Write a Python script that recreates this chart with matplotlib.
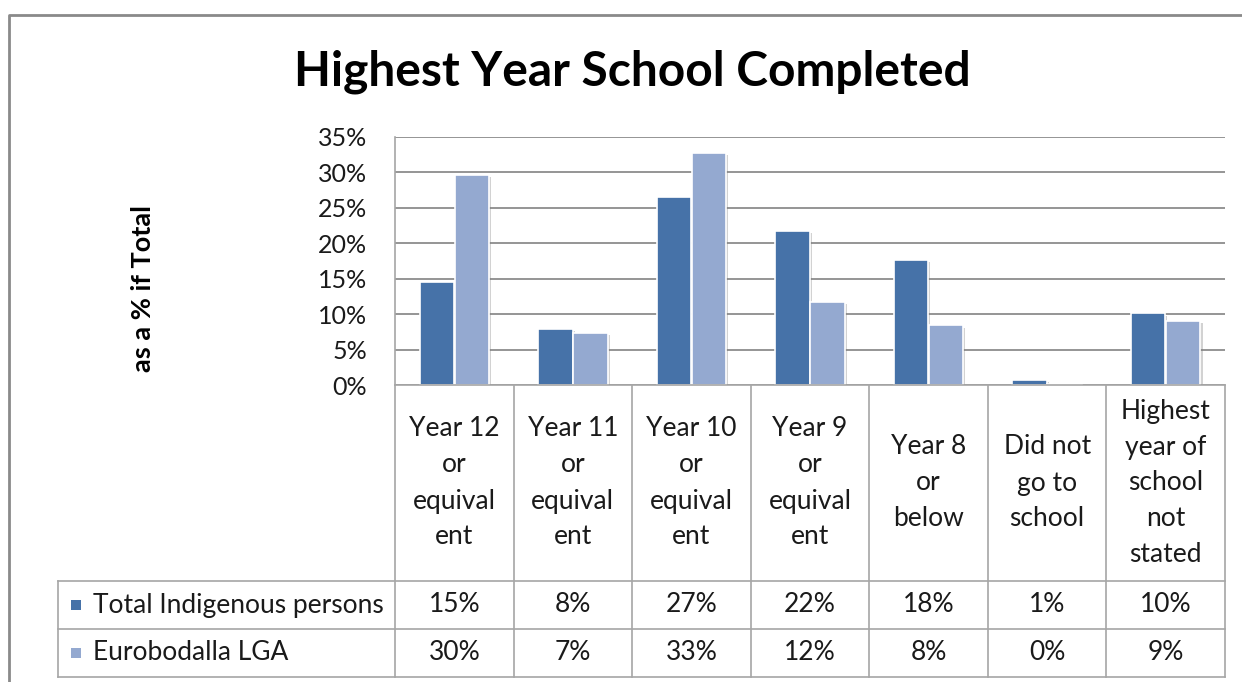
import matplotlib
matplotlib.use("Agg")
import matplotlib.pyplot as plt
import numpy as np
from matplotlib.patches import Rectangle
from matplotlib.patheffects import SimplePatchShadow, Normal

categories = [
    "Year 12\nor\nequival\nent",
    "Year 11\nor\nequival\nent",
    "Year 10\nor\nequival\nent",
    "Year 9\nor\nequival\nent",
    "Year 8\nor\nbelow",
    "Did not\ngo to\nschool",
    "Highest\nyear of\nschool\nnot\nstated",
]
series_names = ["Total Indigenous persons", "Eurobodalla LGA"]
indigenous = [14.6, 7.9, 26.6, 21.7, 17.7, 0.7, 10.1]
eurobodalla = [29.6, 7.4, 32.7, 11.7, 8.4, 0.1, 9.0]
y_ticks = [0, 5, 10, 15, 20, 25, 30, 35]

colors = ["#4672A8", "#94A9D0"]
grid_color = "#8C8C8C"
line_color = "#A6A6A6"
text_color = "#1A1A1A"

plt.rcParams["font.family"] = ["Lato", "DejaVu Sans"]

W, H = 1242, 682
fig = plt.figure(figsize=(W / 100, H / 100), dpi=100)
fig.patch.set_facecolor("white")

# pixel layout of the Excel-style chart
plot_l, plot_r, plot_t, plot_b = 395, 1225, 137, 385
head_b, row1_b, row2_b = 581, 629, 677
legend_l = 58

ax = fig.add_axes([plot_l / W, 1 - plot_b / H, (plot_r - plot_l) / W, (plot_b - plot_t) / H])

x = np.arange(len(categories))
width = 0.29
offset = 0.148
shadow = [SimplePatchShadow(offset=(1.5, -1.5), shadow_rgbFace="#808080", alpha=0.35), Normal()]
for vals, color, shift in [(indigenous, colors[0], -offset), (eurobodalla, colors[1], offset)]:
    bars = ax.bar(x + shift, vals, width=width, color=color, edgecolor="white", linewidth=1.2, zorder=3)
    for b in bars:
        b.set_path_effects(shadow)

ax.set_xlim(-0.5, len(categories) - 0.5)
ax.set_ylim(0, 35)
ax.set_yticks(y_ticks)
ax.set_yticklabels([f"{t}%" for t in y_ticks], fontsize=18, color=text_color)
ax.tick_params(axis="y", length=0, pad=20)
ax.set_xticks([])
ax.yaxis.grid(True, color=grid_color, linewidth=1.3)
ax.set_axisbelow(True)
for side in ["top", "right", "bottom"]:
    ax.spines[side].set_visible(False)
ax.spines["left"].set_color(line_color)
ax.spines["left"].set_linewidth(1.2)

fig.text(143 / W, 1 - 288 / H, "as a % if Total", rotation=90, ha="center", va="center",
         fontsize=19.5, fontweight="bold", color="black")
fig.text(632 / W, 1 - 72 / H, "Highest Year School Completed", ha="center", va="center",
         fontsize=34.5, fontweight="bold", color="black")

# overlay in pixel coordinates for the data table and the chart border
ov = fig.add_axes([0, 0, 1, 1], zorder=5)
ov.set_xlim(0, W)
ov.set_ylim(H, 0)
ov.axis("off")

lw = 1.2
ov.plot([9, 9, W + 5], [H + 5, 15, 15], color="#8A8A8A", linewidth=2)

col_edges = plot_l + np.arange(len(categories) + 1) * (plot_r - plot_l) / len(categories)
ov.plot([plot_l, plot_r], [plot_b, plot_b], color=line_color, linewidth=lw)
for xe in col_edges:
    ov.plot([xe, xe], [plot_b, row2_b], color=line_color, linewidth=lw)
for yl in [head_b, row1_b, row2_b]:
    ov.plot([legend_l, plot_r], [yl, yl], color=line_color, linewidth=lw)
ov.plot([legend_l, legend_l], [head_b, row2_b], color=line_color, linewidth=lw)

centers = (col_edges[:-1] + col_edges[1:]) / 2
for cx, label in zip(centers, categories):
    ov.text(cx, (plot_b + head_b) / 2, label, ha="center", va="center", fontsize=19,
            color=text_color, linespacing=1.55)

rows = [(head_b, row1_b), (row1_b, row2_b)]
for (top, bot), name, vals, color in zip(rows, series_names, [indigenous, eurobodalla], colors):
    cy = (top + bot) / 2
    ov.add_patch(Rectangle((71, cy - 5), 10, 10, facecolor=color, edgecolor="none"))
    ov.text(93, cy, name, ha="left", va="center", fontsize=19, color=text_color)
    for cx, v in zip(centers, vals):
        ov.text(cx, cy, f"{v:.0f}%", ha="center", va="center", fontsize=19, color=text_color)

fig.savefig("out.png", dpi=100)
